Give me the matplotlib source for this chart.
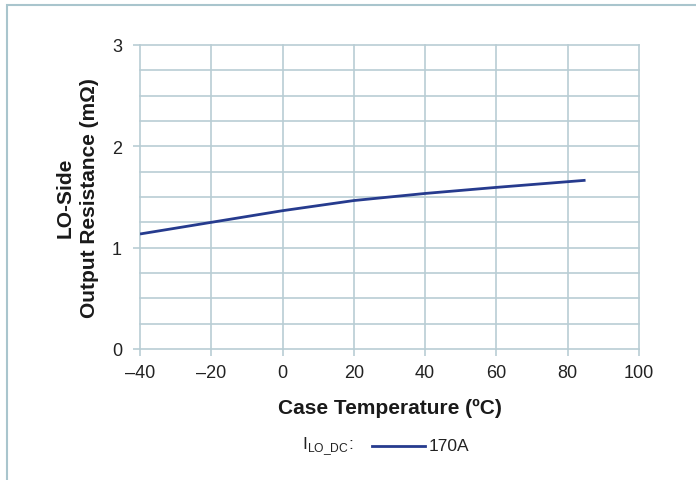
import matplotlib
matplotlib.use("Agg")
import matplotlib.pyplot as plt
from matplotlib.patches import Rectangle
from matplotlib.lines import Line2D
import numpy as np

temps = [-40, -20, 0, 20, 40, 60, 85]
resistance = [1.135, 1.25, 1.365, 1.465, 1.535, 1.595, 1.665]
x_ticks = [-40, -20, 0, 20, 40, 60, 80, 100]
x_tick_labels = ["\u201340", "\u201320", "0", "20", "40", "60", "80", "100"]
y_ticks = [0, 1, 2, 3]
series_label = "170A"

plt.rcParams['font.family'] = ['Liberation Sans', 'DejaVu Sans']

grid_c = "#b9cdd4"
line_c = "#263b8e"

fig = plt.figure(figsize=(6.96, 4.81), dpi=100)
fig.patches.append(Rectangle((7/696, -0.1), 1.2, 1 - 6/481 + 0.1, transform=fig.transFigure,
                             fill=False, edgecolor="#a9c5cd", linewidth=1.5))
ax = fig.add_axes([140/696, 1 - 350/481, 499/696, 304/481])
ax.set_xlim(-40, 100)
ax.set_ylim(0, 3)

for yv in np.arange(0, 3.01, 0.25):
    ax.axhline(yv, color=grid_c, lw=1.2, zorder=1, clip_on=False)
for xv in x_ticks:
    ax.axvline(xv, color=grid_c, lw=1.2, zorder=1, clip_on=False)

ax.plot(temps, resistance, color=line_c, lw=2.0, zorder=3, solid_capstyle='butt')

for s in ax.spines.values():
    s.set_visible(False)

ax.set_xticks(x_ticks)
ax.set_xticklabels(x_tick_labels)
ax.set_yticks(y_ticks)
ax.tick_params(axis='both', length=5, width=1.2, color=grid_c, labelsize=13, labelcolor="#222222")
ax.tick_params(axis='y', pad=8)
ax.tick_params(axis='x', pad=6)

ax.set_xlabel("Case Temperature (ºC)", fontsize=15, fontweight='bold', labelpad=12, color="#1a1a1a")
ax.set_ylabel("LO-Side\nOutput Resistance (mΩ)", fontsize=15, fontweight='bold', labelpad=9,
              color="#1a1a1a", linespacing=1.4)

fig.text(302/696, 1 - 447/481, r"I$_{\mathregular{LO\_DC}}$:", fontsize=12.5, va='center', ha='left', color="#222222")
fig.lines.append(Line2D([372/696, 425/696], [1 - 447/481, 1 - 447/481], transform=fig.transFigure,
                        color=line_c, lw=2.0))
fig.text(429/696, 1 - 447/481, series_label, fontsize=12.5, va='center', ha='left', color="#222222")

fig.savefig("out.png", dpi=100)
